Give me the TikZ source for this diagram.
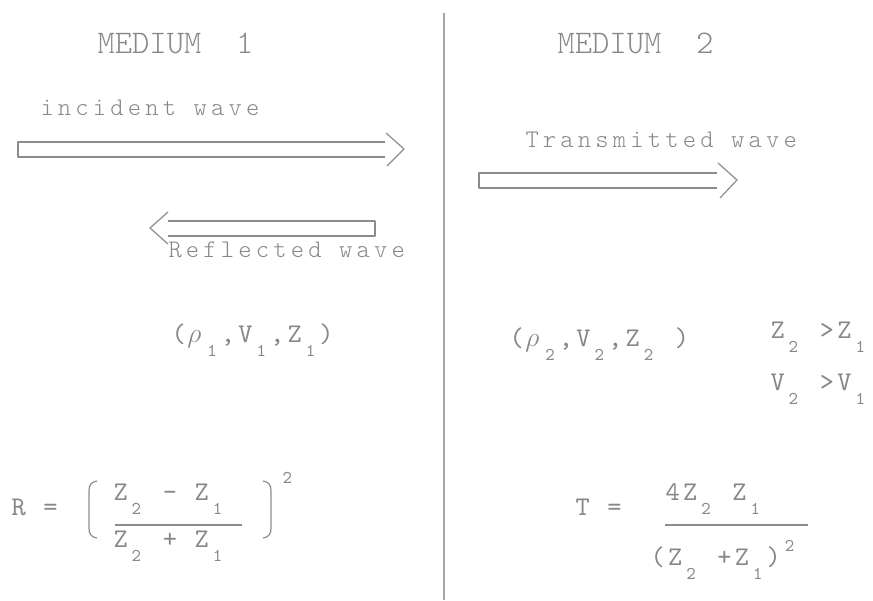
\documentclass[tikz,border=0pt]{standalone}
\usepackage{fontspec}
\newfontfamily\titleface{lmmonolt10-regular.otf}
\newfontfamily\labelface{lmmonolt10-regular.otf}[LetterSpace=16.5]
\newfontfamily\formface{lmmono10-regular.otf}[LetterSpace=12.6]
\newfontfamily\digitface{lmmono10-regular.otf}
\newcommand\subface{\digitface\fontsize{13.5}{15}\selectfont}
% one printer cell, lowered / raised small digit
\newcommand\lo[1]{\makebox[0.65em][c]{\raisebox{-0.55em}{\subface #1}}}
\newcommand\hi[1]{\makebox[0.65em][c]{\raisebox{0.5em}{\subface #1}}}
\newcommand\rh{\makebox[0.65em][c]{$\rho$}}
\definecolor{ink}{RGB}{135,135,135}
\definecolor{pen}{RGB}{140,140,140}
\definecolor{wall}{RGB}{165,165,165}

\tikzset{every picture/.style={line width=0.75pt},
  title/.style={anchor=base west,inner sep=0pt,text=ink,font=\titleface\fontsize{24.75}{28}\selectfont},
  label/.style={anchor=base west,inner sep=0pt,text=ink,font=\labelface\fontsize{19}{22}\selectfont},
  formula/.style={anchor=base west,inner sep=0pt,text=ink,font=\formface\fontsize{20.25}{24}\selectfont},
  wavebox/.style={draw=pen,line width=0.9pt,line join=round},
  boundary/.style={draw=wall,line width=1.1pt}}

\begin{document}
\begin{tikzpicture}[x=0.75pt,y=0.75pt,yscale=-1,xscale=1]
\useasboundingbox (0,0) rectangle (873,600);

%Straight Lines: boundary between the media
\draw [boundary] (444,13) -- (444,600);

%Shape: incident wave
\draw [wavebox] (385,142) -- (18,142) -- (18,157) -- (385,157);
\draw [wavebox] (386,133) -- (404,149) -- (387,166);
%Shape: reflected wave
\draw [wavebox] (168,221) -- (375,221) -- (375,236) -- (168,236);
\draw [wavebox] (168,212) -- (150,228) -- (168,244);
%Shape: transmitted wave
\draw [wavebox] (717,173) -- (479,173) -- (479,188) -- (717,188);
\draw [wavebox] (718,163) -- (737,180) -- (720,198);

%Curve Lines: brackets of R
\draw [wavebox] (97,481) .. controls (91,482) and (89,485) .. (89,491) -- (89,528) .. controls (89,534) and (91,537) .. (97,538);
\draw [wavebox] (263,481) .. controls (269,482) and (271,485) .. (271,491) -- (271,528) .. controls (271,534) and (269,537) .. (263,538);
%Straight Lines: fraction bars
\draw [wavebox] (115,525) -- (242,525);
\draw [wavebox] (665,525) -- (808,525);

% Text Node
\draw (97,53) node (med1) [title] {MEDIUM\ \ 1};
% Text Node
\draw (557,53) node (med2) [title] {MEDIUM\ \ 2};
% Text Node
\draw (40,115) node (inc) [label] {incident wave};
% Text Node
\draw (168,257) node (refl) [label] {Reflected wave};
% Text Node
\draw (525,147) node (trans) [label] {Transmitted wave};
% Text Node
\draw (171,342) node (prop1) [formula] {(\rh\lo1,V\lo1,Z\lo1)};
% Text Node
\draw (509,346) node (prop2) [formula] {(\rh\lo2,V\lo2,Z\lo2\ )};
% Text Node
\draw (770,338) node (cmpz) [formula] {Z\lo2\ >Z\lo1};
% Text Node
\draw (770,390) node (cmpv) [formula] {V\lo2\ >V\lo1};
% Text Node
\draw (11,515) node (rlhs) [formula] {R\ =};
% Text Node
\draw (113,500) node (rnum) [formula] {Z\lo2\ -\ Z\lo1};
% Text Node
\draw (113,547) node (rden) [formula] {Z\lo2\ +\ Z\lo1};
% Text Node
\draw (282,483) node (rsq) [formula,font=\subface] {2};
% Text Node
\draw (575,515) node (tlhs) [formula] {T\ =};
% Text Node
\draw (665,500) node (tnum) [formula] {4Z\lo2\ Z\lo1};
% Text Node
\draw (650,565) node (tden) [formula] {(Z\lo2\ +Z\lo1)\hi2};

\end{tikzpicture}
\end{document}
